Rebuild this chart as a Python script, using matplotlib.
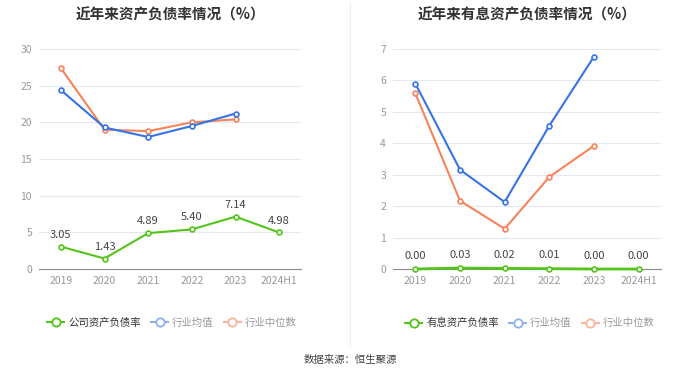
import matplotlib
matplotlib.use("Agg")
import matplotlib.pyplot as plt
from matplotlib.lines import Line2D

plt.rcParams['font.family'] = ['Noto Sans CJK SC', 'DejaVu Sans']

years = ['2019', '2020', '2021', '2022', '2023', '2024H1']

# left chart
company_ratio = [3.05, 1.43, 4.89, 5.40, 7.14, 4.98]
ind_mean_left = [24.4, 19.3, 18.0, 19.5, 21.2]
ind_median_left = [27.4, 19.0, 18.8, 20.0, 20.4]

# right chart
interest_ratio = [0.00, 0.03, 0.02, 0.01, 0.00, 0.00]
ind_mean_right = [5.9, 3.16, 2.13, 4.56, 6.76]
ind_median_right = [5.59, 2.17, 1.28, 2.93, 3.92]

GREEN = '#52c41a'
BLUE = '#3873e6'
ORANGE = '#f7835a'
BLUE_L = '#8fb0f0'
ORANGE_L = '#f9b49b'

W, H = 700, 378
fig = plt.figure(figsize=(7, 3.78), dpi=100)


def px_axes(l, r, top, bot):
    return fig.add_axes([l / W, 1 - bot / H, (r - l) / W, (bot - top) / H])


def style(ax, ymax, step):
    ax.set_xlim(-0.5, 5.5)
    ax.set_ylim(0, ymax)
    ax.set_yticks(range(0, ymax + 1, step))
    ax.set_xticks(range(len(years)))
    ax.set_xticklabels(years)
    for s in ['top', 'right', 'left']:
        ax.spines[s].set_visible(False)
    ax.spines['bottom'].set_color('#8c8c8c')
    ax.grid(axis='y', color='#e3e8f2', linewidth=0.8)
    ax.set_axisbelow(True)
    ax.tick_params(axis='both', length=0, colors='#999999', labelsize=7.5, pad=5)


def series(ax, vals, color, z=3, lw=1.5):
    x = list(range(len(vals)))
    ax.plot(x, vals, color=color, lw=lw, marker='o', ms=3.5,
            mfc='white', mec=color, mew=1.2, zorder=z, clip_on=False)


ax1 = px_axes(39, 301, 49, 269)
style(ax1, 30, 5)
series(ax1, ind_median_left, ORANGE)
series(ax1, ind_mean_left, BLUE)
series(ax1, company_ratio, GREEN, z=4)
for i, v in enumerate(company_ratio):
    ax1.annotate(f'{v:.2f}', (i, v), xytext=(0, 5), textcoords='offset points',
                 ha='center', va='bottom', fontsize=8, color='#444444')
ax1.set_title('近年来资产负债率情况（%）', fontsize=10.5, fontweight='bold',
              color='#333333', pad=21)

ax2 = px_axes(393, 661, 49, 269)
style(ax2, 7, 1)
series(ax2, ind_median_right, ORANGE)
series(ax2, ind_mean_right, BLUE)
series(ax2, interest_ratio, GREEN, z=4, lw=2)
for i, v in enumerate(interest_ratio):
    ax2.annotate(f'{v:.2f}', (i, v), xytext=(0, 6), textcoords='offset points',
                 ha='center', va='bottom', fontsize=8, color='#444444')
ax2.set_title('近年来有息资产负债率情况（%）', fontsize=10.5, fontweight='bold',
              color='#333333', pad=21)


def handle(color):
    return Line2D([0], [0], color=color, lw=1.5, marker='o', ms=6,
                  mfc='white', mec=color, mew=1.3)


for cx, first in [(172, '公司资产负债率'), (530, '有息资产负债率')]:
    leg = fig.legend([handle(GREEN), handle(BLUE_L), handle(ORANGE_L)],
                     [first, '行业均值', '行业中位数'],
                     loc='center', bbox_to_anchor=(cx / W, 1 - 323 / H),
                     ncol=3, frameon=False, fontsize=7.5, handlelength=1.6,
                     columnspacing=1.0, handletextpad=0.4)
    for t, c in zip(leg.get_texts(), ['#333333', '#999999', '#999999']):
        t.set_color(c)

fig.add_artist(Line2D([350 / W, 350 / W], [1 - 2 / H, 1 - 345 / H],
                      color='#eeeeee', lw=0.8))
fig.text(0.5, 1 - 360 / H, '数据来源：恒生聚源', ha='center', va='center',
         fontsize=7.5, color='#444444')

fig.savefig('out.png', dpi=100, facecolor='white')
